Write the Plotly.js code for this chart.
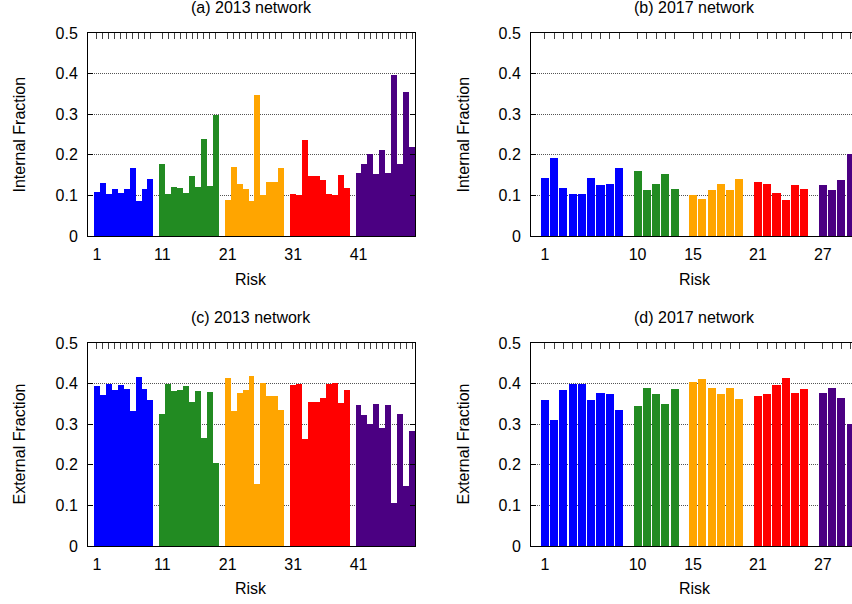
<!DOCTYPE html>
<html>
<head>
<meta charset="utf-8">
<script src="https://cdn.plot.ly/plotly-3.0.1.min.js"></script>
<style>
html, body { margin: 0; padding: 0; overflow: hidden; background: #fff; }
#chart { width: 880px; height: 604px; }
</style>
</head>
<body>
<div id="chart"></div>
<script>
// ---- data ----
const groupColors = ['#0000ff', '#228b22', '#ffa500', '#ff0000', '#4b0082'];
const groupSizes2013 = [10, 10, 10, 10, 10];
const groupSizes2017 = [9, 5, 6, 6, 4];
const tickLabels2013 = ['1', '11', '21', '31', '41'];
const tickLabels2017 = ['1', '10', '15', '21', '27'];

const internal2013 = [
  0.109, 0.131, 0.104, 0.116, 0.107, 0.116, 0.168, 0.087, 0.116, 0.141,
  0.178, 0.104, 0.121, 0.118, 0.107, 0.148, 0.121, 0.238, 0.124, 0.299,
  0.089, 0.170, 0.127, 0.117, 0.085, 0.348, 0.102, 0.133, 0.133, 0.168,
  0.104, 0.102, 0.237, 0.148, 0.148, 0.138, 0.104, 0.102, 0.150, 0.118,
  0.155, 0.178, 0.202, 0.153, 0.212, 0.155, 0.397, 0.178, 0.355, 0.220
];
const external2013 = [
  0.395, 0.373, 0.400, 0.385, 0.397, 0.387, 0.333, 0.417, 0.387, 0.360,
  0.326, 0.400, 0.382, 0.385, 0.395, 0.355, 0.382, 0.266, 0.380, 0.205,
  0.414, 0.333, 0.377, 0.385, 0.419, 0.153, 0.402, 0.370, 0.370, 0.336,
  0.397, 0.400, 0.264, 0.355, 0.355, 0.365, 0.400, 0.402, 0.353, 0.385,
  0.348, 0.323, 0.301, 0.350, 0.291, 0.348, 0.106, 0.326, 0.148, 0.284
];
const internal2017 = [
  0.143, 0.192, 0.118, 0.104, 0.104, 0.143, 0.126, 0.128, 0.168,
  0.160, 0.113, 0.128, 0.153, 0.116,
  0.101, 0.091, 0.113, 0.128, 0.113, 0.141,
  0.133, 0.128, 0.106, 0.089, 0.126, 0.116,
  0.126, 0.113, 0.138, 0.202
];
const external2017 = [
  0.360, 0.311, 0.385, 0.400, 0.400, 0.360, 0.377, 0.375, 0.336,
  0.345, 0.390, 0.375, 0.350, 0.387,
  0.405, 0.412, 0.390, 0.375, 0.390, 0.363,
  0.370, 0.375, 0.397, 0.414, 0.377, 0.387,
  0.377, 0.390, 0.365, 0.301
];

// ---- geometry helpers ----
const W = 880, H = 604;
const px = v => v / W;
const py = v => 1 - v / H;
const FONT = { family: 'Liberation Sans, Arial, sans-serif', size: 16, color: '#000' };

function slotsFor(sizes) {
  const slots = [], starts = [];
  let k = 0;
  sizes.forEach((n, g) => {
    starts.push(k);
    for (let i = 0; i < n; i++) { slots.push(k); k++; }
    k++; // gap slot between groups
  });
  return { slots, starts };
}
const s2013 = slotsFor(groupSizes2013);
const s2017 = slotsFor(groupSizes2017);

function barTraces(values, sizes, slotInfo, xa, ya, width) {
  const traces = [];
  let idx = 0;
  sizes.forEach((n, g) => {
    traces.push({
      type: 'bar',
      x: slotInfo.slots.slice(idx, idx + n),
      y: values.slice(idx, idx + n),
      width: width,
      marker: { color: groupColors[g], line: { width: 0 } },
      xaxis: xa, yaxis: ya,
      hoverinfo: 'skip', showlegend: false
    });
    idx += n;
  });
  return traces;
}

const data = [].concat(
  barTraces(internal2013, groupSizes2013, s2013, 'x', 'y', 1.0),
  barTraces(internal2017, groupSizes2017, s2017, 'x2', 'y2', 0.87),
  barTraces(external2013, groupSizes2013, s2013, 'x3', 'y3', 1.0),
  barTraces(external2017, groupSizes2017, s2017, 'x4', 'y4', 0.87),
  [
    { type: 'scatter', x: [], y: [], xaxis: 'x5', yaxis: 'y', showlegend: false, hoverinfo: 'skip' },
    { type: 'scatter', x: [], y: [], xaxis: 'x6', yaxis: 'y2', showlegend: false, hoverinfo: 'skip' },
    { type: 'scatter', x: [], y: [], xaxis: 'x7', yaxis: 'y3', showlegend: false, hoverinfo: 'skip' },
    { type: 'scatter', x: [], y: [], xaxis: 'x8', yaxis: 'y4', showlegend: false, hoverinfo: 'skip' }
  ]
);

const range2013 = [-1.5, 53.5];
const range2017 = [-1.5, 33.8];

function bottomX(domain, yAnchor, range, starts, labels) {
  return {
    domain: domain, anchor: yAnchor, range: range,
    tickmode: 'array', tickvals: starts, ticktext: labels,
    ticks: '', showline: true, linecolor: '#000', linewidth: 1, mirror: true,
    showgrid: false, zeroline: false, fixedrange: true,
    tickfont: FONT, ticklabelstandoff: 4
  };
}
function topX(base, yAnchor, range, slots) {
  return {
    overlaying: base, anchor: yAnchor, side: 'top', range: range,
    tickmode: 'array', tickvals: slots, showticklabels: false,
    ticks: 'inside', ticklen: 6, tickwidth: 1, tickcolor: '#444',
    showline: false, showgrid: false, zeroline: false, fixedrange: true
  };
}
function yAx(domain, xAnchor) {
  return {
    domain: domain, anchor: xAnchor, range: [0, 0.5],
    tickmode: 'array', tickvals: [0, 0.1, 0.2, 0.3, 0.4, 0.5],
    ticktext: ['0', '0.1', '0.2', '0.3', '0.4', '0.5'],
    ticks: 'inside', ticklen: 5, tickwidth: 1, tickcolor: '#000',
    showline: true, linecolor: '#000', linewidth: 1, mirror: 'ticks',
    showgrid: true, gridcolor: '#555', griddash: '1px,1px', gridwidth: 1,
    zeroline: false, fixedrange: true, tickfont: FONT, ticklabelstandoff: 6
  };
}

const dxL = [px(88), px(415)];
const dxR = [px(531), px(858)];
const dyT = [py(236), py(33)];
const dyB = [py(546), py(343)];

const annotations = [
  { text: '(a) 2013 network', x: px(251.5), y: py(8), xref: 'paper', yref: 'paper' },
  { text: '(b) 2017 network', x: px(694.5), y: py(8), xref: 'paper', yref: 'paper' },
  { text: '(c) 2013 network', x: px(251.5), y: py(317), xref: 'paper', yref: 'paper' },
  { text: '(d) 2017 network', x: px(694.5), y: py(317), xref: 'paper', yref: 'paper' },
  { text: 'Risk', x: px(251.5), y: py(279), xref: 'paper', yref: 'paper' },
  { text: 'Risk', x: px(694.5), y: py(279), xref: 'paper', yref: 'paper' },
  { text: 'Risk', x: px(251.5), y: py(588), xref: 'paper', yref: 'paper' },
  { text: 'Risk', x: px(694.5), y: py(588), xref: 'paper', yref: 'paper' },
  { text: 'Internal Fraction', x: px(19), y: py(134.5), xref: 'paper', yref: 'paper', textangle: -90 },
  { text: 'Internal Fraction', x: px(463), y: py(134.5), xref: 'paper', yref: 'paper', textangle: -90 },
  { text: 'External Fraction', x: px(19), y: py(444.5), xref: 'paper', yref: 'paper', textangle: -90 },
  { text: 'External Fraction', x: px(463), y: py(444.5), xref: 'paper', yref: 'paper', textangle: -90 }
].map(a => Object.assign({ showarrow: false, xanchor: 'center', yanchor: 'middle', font: FONT }, a));

const layout = {
  width: W, height: H,
  margin: { l: 0, r: 0, t: 0, b: 0 },
  paper_bgcolor: '#fff', plot_bgcolor: '#fff',
  showlegend: false, hovermode: false, bargap: 0,
  font: FONT,
  xaxis: bottomX(dxL, 'y', range2013, s2013.starts, tickLabels2013),
  xaxis2: bottomX(dxR, 'y2', range2017, s2017.starts, tickLabels2017),
  xaxis3: bottomX(dxL, 'y3', range2013, s2013.starts, tickLabels2013),
  xaxis4: bottomX(dxR, 'y4', range2017, s2017.starts, tickLabels2017),
  xaxis5: topX('x', 'y', range2013, s2013.slots),
  xaxis6: topX('x2', 'y2', range2017, s2017.slots),
  xaxis7: topX('x3', 'y3', range2013, s2013.slots),
  xaxis8: topX('x4', 'y4', range2017, s2017.slots),
  yaxis: yAx(dyT, 'x'),
  yaxis2: yAx(dyT, 'x2'),
  yaxis3: yAx(dyB, 'x3'),
  yaxis4: yAx(dyB, 'x4'),
  annotations: annotations
};

Plotly.newPlot('chart', data, layout, { staticPlot: true, displayModeBar: false });
</script>
</body>
</html>
